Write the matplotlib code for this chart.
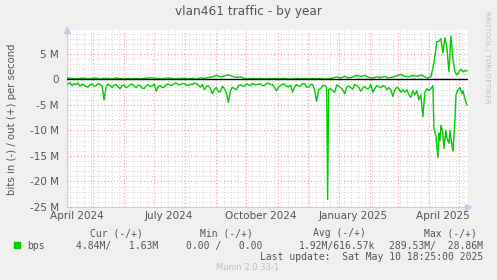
import numpy as np
import matplotlib
matplotlib.use("Agg")
import matplotlib.pyplot as plt
import matplotlib.dates as mdates
from matplotlib.ticker import MultipleLocator, FixedLocator, NullFormatter

# 400-day munin "by year" window ending at the last update
start = np.datetime64("2024-04-05")
end = np.datetime64("2025-05-10")

# day offsets from start, values in Mbit/s ("in" is drawn below zero)
days_in = [1, 3, 5, 7, 9, 11, 13, 15, 17, 19, 21, 23, 25, 27, 29, 31, 33, 35, 37, 39,
           41, 43, 45, 47, 49, 51, 53, 55, 57, 59, 61, 63, 65, 67, 69, 71, 73, 75, 77, 79,
           81, 83, 85, 87, 89, 91, 93, 95, 97, 99, 101, 103, 105, 107, 109, 111, 113, 115, 117, 119,
           121, 123, 125, 127, 129, 131, 133, 135, 137, 139, 141, 143, 145, 147, 149, 151, 153, 155, 157, 159,
           161, 163, 165, 167, 169, 171, 173, 175, 177, 179, 181, 183, 185, 187, 189, 191, 193, 195, 197, 199,
           201, 203, 205, 207, 209, 211, 213, 215, 217, 219, 221, 223, 225, 227, 229, 231, 233, 235, 237, 239,
           241, 243, 245, 247, 249, 251, 253, 255, 257, 259, 260, 261, 263, 265, 267, 269, 271, 273, 275, 277,
           279, 281, 283, 285, 287, 289, 291, 293, 295, 297, 299, 301, 303, 305, 307, 309, 311, 313, 315, 317,
           319, 321, 323, 325, 327, 329, 331, 333, 335, 337, 339, 341, 343, 345, 347, 349, 351, 353, 355, 357,
           359, 361, 363, 365, 366, 368, 370, 371, 372, 373, 375, 376, 378, 379, 381, 382, 384, 385, 387, 388,
           390, 392, 394, 395, 397, 398, 399]
bps_in = [0.9, 0.6, 1.2, 0.8, 1.0, 0.7, 1.3, 0.9, 1.1, 1.4, 1.5, 1.0, 0.9, 1.3, 1.2, 0.8, 1.0, 1.3, 4.0, 1.5,
          0.9, 1.2, 1.6, 1.1, 1.0, 1.5, 1.8, 1.2, 1.1, 1.6, 1.4, 1.0, 0.9, 1.3, 1.6, 1.1, 1.2, 1.7, 1.8, 1.2,
          1.0, 1.4, 1.3, 0.9, 2.3, 1.4, 1.2, 1.6, 1.5, 1.0, 0.9, 1.2, 1.1, 0.8, 0.7, 1.0, 1.0, 0.8, 0.8, 1.1,
          1.2, 0.9, 1.0, 0.7, 0.8, 1.1, 1.5, 1.0, 2.0, 1.4, 1.2, 1.8, 2.8, 1.9, 1.6, 2.4, 2.4, 1.3, 1.8, 2.6,
          4.5, 2.2, 1.5, 1.8, 2.0, 1.2, 1.0, 1.3, 1.3, 0.9, 1.0, 1.2, 0.8, 1.0, 1.0, 0.9, 0.9, 1.2, 1.2, 0.8,
          0.7, 1.0, 1.0, 1.6, 2.2, 1.5, 1.2, 0.9, 0.9, 1.4, 1.4, 1.1, 2.5, 1.5, 1.0, 1.3, 1.3, 0.8, 0.8, 1.5,
          1.5, 1.0, 1.0, 2.0, 4.3, 2.0, 1.8, 1.2, 1.2, 1.5, 23.5, 2.0, 1.8, 2.2, 2.5, 1.1, 1.3, 1.6, 2.0, 2.8,
          1.5, 1.3, 1.6, 1.9, 1.0, 1.2, 1.5, 2.3, 1.7, 1.4, 1.8, 1.8, 1.0, 2.5, 1.8, 1.2, 1.4, 1.6, 1.2, 1.3,
          2.0, 1.6, 2.0, 3.3, 2.0, 1.5, 1.8, 2.5, 2.0, 2.5, 2.0, 3.0, 3.5, 2.2, 3.0, 2.2, 4.0, 3.0, 7.3, 2.5,
          1.8, 2.2, 1.8, 1.2, 9.7, 11.0, 15.3, 10.5, 12.0, 9.0, 10.5, 13.5, 10.0, 11.5, 12.5, 10.0, 13.0, 14.0, 8.0, 3.0,
          2.0, 1.6, 2.8, 2.2, 3.8, 4.5, 5.0]

days_out = [1, 5, 9, 13, 17, 21, 25, 29, 33, 37, 41, 45, 49, 53, 57, 61, 65, 69, 73, 77,
            81, 85, 89, 93, 97, 101, 105, 109, 113, 117, 121, 125, 129, 133, 137, 141, 145, 149, 153, 157,
            161, 165, 169, 173, 177, 181, 185, 189, 193, 197, 201, 205, 209, 213, 217, 221, 225, 229, 233, 237,
            241, 245, 249, 253, 257, 260, 263, 265, 269, 273, 277, 281, 285, 289, 293, 297, 301, 305, 309, 313,
            317, 321, 325, 329, 333, 337, 341, 345, 349, 353, 355, 357, 360, 363, 366, 369, 371, 373, 375, 377,
            379, 381, 383, 385, 387, 389, 391, 393, 395, 397, 399]
bps_out = [0.3, 0.2, 0.1, 0.2, 0.3, 0.1, 0.2, 0.3, 0.1, 0.2, 0.2, 0.1, 0.3, 0.2, 0.1, 0.2, 0.1, 0.2, 0.1, 0.2,
           0.3, 0.3, 0.2, 0.1, 0.2, 0.3, 0.2, 0.1, 0.2, 0.2, 0.1, 0.2, 0.1, 0.3, 0.2, 0.4, 0.5, 0.8, 0.5, 0.7,
           0.9, 0.6, 0.4, 0.5, 0.2, 0.1, 0.2, 0.1, 0.2, 0.1, 0.2, 0.1, 0.2, 0.1, 0.2, 0.1, 0.1, 0.2, 0.1, 0.2,
           0.1, 0.2, 0.1, 0.2, 0.1, 0.1, 0.2, 0.3, 0.5, 0.3, 0.6, 0.3, 0.5, 0.8, 0.6, 0.8, 0.4, 0.3, 0.5, 0.4,
           0.6, 0.3, 0.5, 0.7, 1.0, 0.6, 0.5, 0.8, 0.6, 0.9, 0.7, 0.5, 0.3, 0.5, 3.2, 7.4, 7.5, 8.0, 5.2, 8.2,
           6.0, 1.5, 8.5, 4.0, 1.5, 0.9, 1.5, 2.0, 1.5, 1.7, 1.7]

month_labels = ["April 2024", "July 2024", "October 2024", "January 2025", "April 2025"]
label_dates = ["2024-04-15", "2024-07-15", "2024-10-15", "2025-01-15", "2025-04-15"]
y_ticks = [-25, -20, -15, -10, -5, 0, 5]

W, H = 497, 280
GREEN = "#00cc00"
TXT = "#555555"

fig = plt.figure(figsize=(W / 100, H / 100), dpi=100, facecolor="#f0f0f0")
ax = fig.add_axes([67 / W, 1 - 207 / H, (468 - 67) / W, (207 - 30) / H])
ax.set_facecolor("white")

def to_num(d):
    return mdates.date2num(start + np.array(d).astype("timedelta64[D]"))

ax.plot(to_num(days_in), -np.array(bps_in), color=GREEN, lw=1, zorder=3)
ax.plot(to_num(days_out), bps_out, color=GREEN, lw=1, zorder=3)
ax.axhline(0, color="black", lw=1, zorder=4)

ax.set_xlim(mdates.date2num(start), mdates.date2num(end))
ax.set_ylim(-25, 9.7)

# grid: months red, weeks grey; 5M red, 1M grey
ax.xaxis.set_major_locator(mdates.MonthLocator())
ax.xaxis.set_minor_locator(mdates.WeekdayLocator(byweekday=mdates.MO))
ax.xaxis.set_major_formatter(NullFormatter())
ax.yaxis.set_major_locator(FixedLocator(y_ticks))
ax.yaxis.set_minor_locator(MultipleLocator(1))
ax.set_yticklabels([f"{v} M" if v else "0" for v in y_ticks])
ax.grid(which="minor", color="#d4d4d4", ls=(0, (1, 2)), lw=0.7)
ax.grid(which="major", color="#f0a0a0", ls=(0, (1, 2)), lw=0.8)
ax.set_axisbelow(True)
ax.tick_params(which="both", length=0)
ax.tick_params(axis="y", labelsize=7.5, labelcolor=TXT, pad=6)

for lab, d in zip(month_labels, label_dates):
    ax.text(mdates.date2num(np.datetime64(d)), -0.025, lab, transform=ax.get_xaxis_transform(),
            ha="center", va="top", fontsize=7.5, color=TXT)

for s in ["top", "right"]:
    ax.spines[s].set_visible(False)
for s in ["left", "bottom"]:
    ax.spines[s].set_color("#c8c8f0")
ax.plot(1.0, 0, ">", color="#c8c8f0", ms=4, transform=ax.transAxes, clip_on=False)
ax.plot(0, 1.0, "^", color="#c8c8f0", ms=4, transform=ax.transAxes, clip_on=False)

def ftext(x, y, s, **kw):
    fig.text(x / W, 1 - y / H, s, **kw)

ftext(248, 12, "vlan461 traffic - by year", ha="center", va="center", fontsize=8.7, color=TXT)
ftext(12, 119, "bits in (-) / out (+) per second", ha="center", va="center",
      rotation=90, fontsize=7.3, color=TXT)
ftext(487, 57, "RRDTOOL / TOBI OETIKER", ha="center", va="center", rotation=270,
      fontsize=5.2, color="#c0c0c0")

mono = dict(family="DejaVu Sans Mono", fontsize=7, color=TXT, va="center")
ftext(116, 233, "Cur (-/+)", ha="center", **mono)
ftext(226, 233, "Min (-/+)", ha="center", **mono)
ftext(339, 233, "Avg (-/+)", ha="center", **mono)
ftext(450, 233, "Max (-/+)", ha="center", **mono)
fig.patches.append(plt.Rectangle((14 / W, 1 - 248 / H), 6 / W, 6 / H, color=GREEN,
                                 transform=fig.transFigure))
ftext(27, 246, "bps", ha="left", **mono)
ftext(158, 246, "4.84M/   1.63M", ha="right", **mono)
ftext(262, 246, "0.00 /   0.00", ha="right", **mono)
ftext(375, 246, "1.92M/616.57k", ha="right", **mono)
ftext(483, 246, "289.53M/  28.86M", ha="right", **mono)
ftext(483, 257, "Last update:  Sat May 10 18:25:00 2025", ha="right", **mono)
ftext(248, 268, "Munin 2.0.33-1", ha="center", va="center", fontsize=6, color="#c0c0c0")

fig.savefig("out.png", dpi=100, facecolor=fig.get_facecolor())
